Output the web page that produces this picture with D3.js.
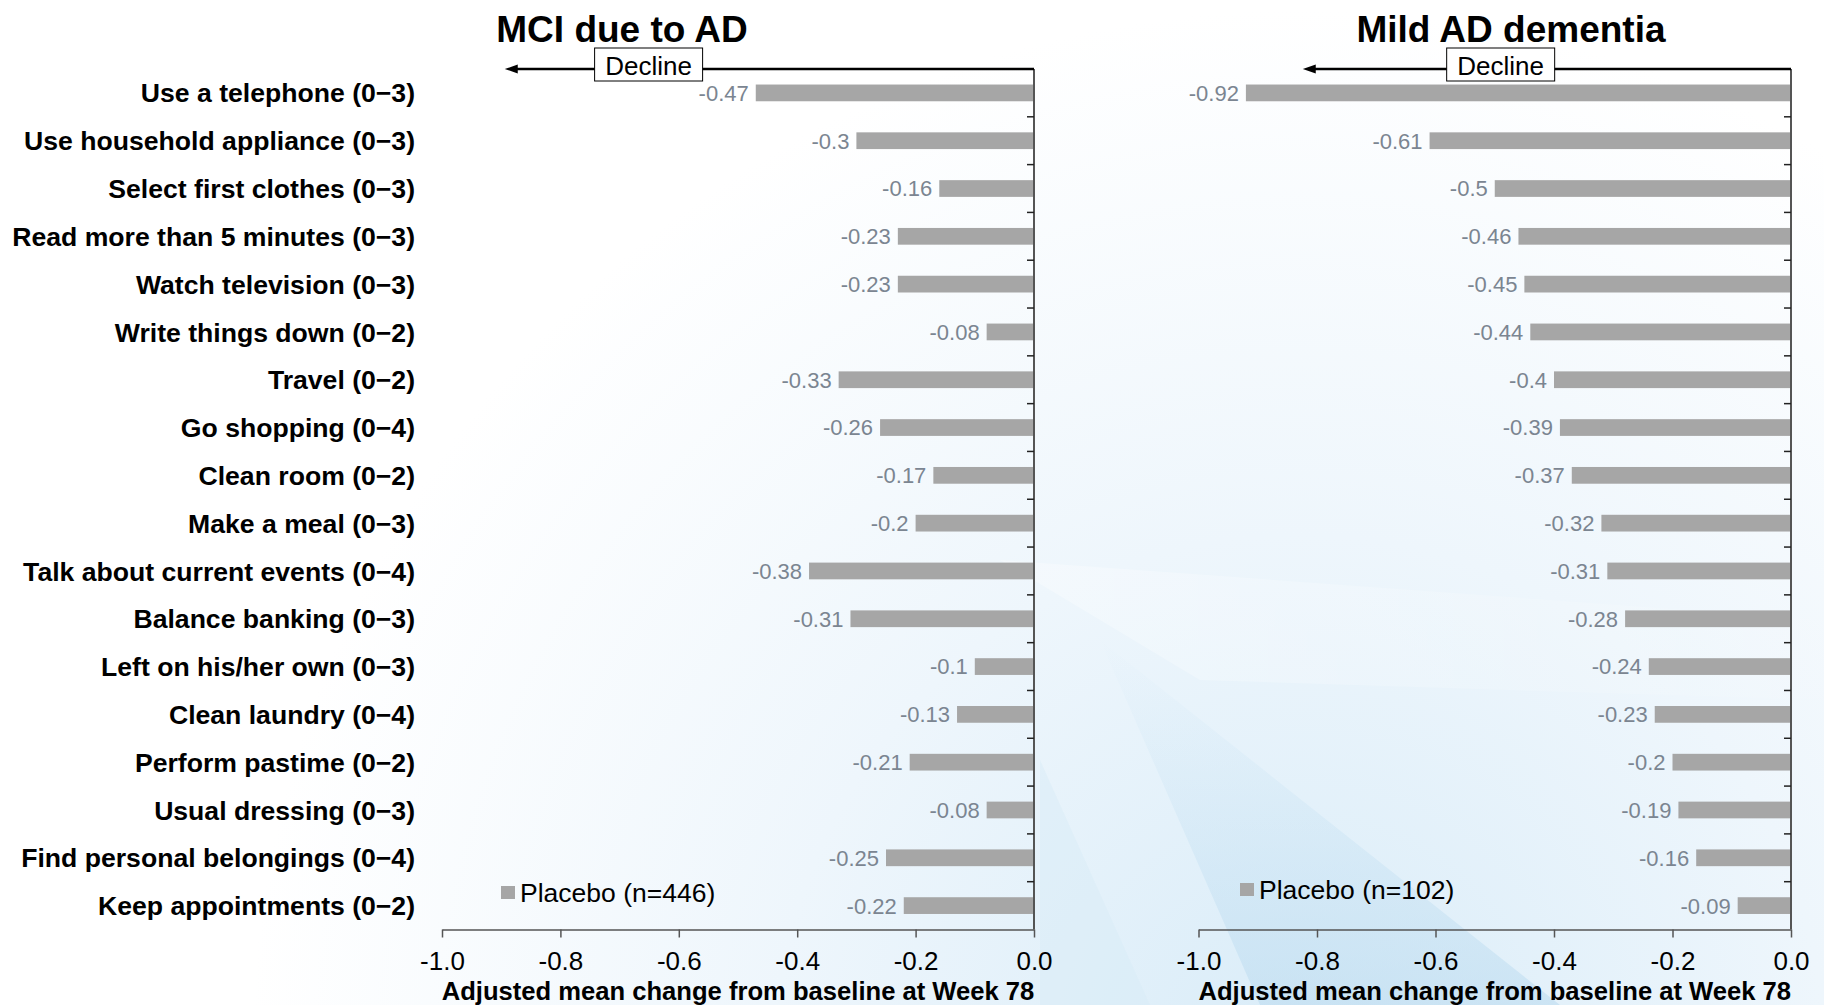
<!DOCTYPE html>
<html>
<head>
<meta charset="utf-8">
<script src="https://cdn.jsdelivr.net/npm/d3@7"></script>
<style>
  html, body { margin: 0; padding: 0; background: #ffffff; }
  svg { display: block; font-family: "Liberation Sans", Arial, sans-serif; }
</style>
</head>
<body>
<svg id="chart" width="1824" height="1005"></svg>
<script>
// ---------------- DATA ----------------
const categories = [
  "Use a telephone (0\u22123)",
  "Use household appliance (0\u22123)",
  "Select first clothes (0\u22123)",
  "Read more than 5 minutes (0\u22123)",
  "Watch television (0\u22123)",
  "Write things down (0\u22122)",
  "Travel (0\u22122)",
  "Go shopping (0\u22124)",
  "Clean room (0\u22122)",
  "Make a meal (0\u22123)",
  "Talk about current events (0\u22124)",
  "Balance banking (0\u22123)",
  "Left on his/her own (0\u22123)",
  "Clean laundry (0\u22124)",
  "Perform pastime (0\u22122)",
  "Usual dressing (0\u22123)",
  "Find personal belongings (0\u22124)",
  "Keep appointments (0\u22122)"
];
const mciValues  = [-0.47, -0.3, -0.16, -0.23, -0.23, -0.08, -0.33, -0.26, -0.17, -0.2, -0.38, -0.31, -0.1, -0.13, -0.21, -0.08, -0.25, -0.22];
const mildValues = [-0.92, -0.61, -0.5, -0.46, -0.45, -0.44, -0.4, -0.39, -0.37, -0.32, -0.31, -0.28, -0.24, -0.23, -0.2, -0.19, -0.16, -0.09];
const panelTitles = ["MCI due to AD", "Mild AD dementia"];
const legendLabels = ["Placebo (n=446)", "Placebo (n=102)"];
const xTickValues = [-1.0, -0.8, -0.6, -0.4, -0.2, 0.0];
const xDomain = [-1, 0];
const axisTitle = "Adjusted mean change from baseline at Week 78";
const annotationText = "Decline";

// ---------------- SETUP ----------------
const svg = d3.select("#chart");
const W = 1824, H = 1005;

// background decoration (soft light-blue wash)
const defs = svg.append("defs");
const rg = defs.append("radialGradient").attr("id", "bgRad")
  .attr("cx", 1300).attr("cy", 1060).attr("r", 1050).attr("gradientUnits", "userSpaceOnUse");
rg.append("stop").attr("offset", "0").attr("stop-color", "#d9ecf8");
rg.append("stop").attr("offset", "0.5").attr("stop-color", "#eef6fc");
rg.append("stop").attr("offset", "1").attr("stop-color", "#ffffff");
const wg = defs.append("linearGradient").attr("id", "wedge")
  .attr("x1", 0).attr("y1", 0).attr("x2", 0).attr("y2", 1);
wg.append("stop").attr("offset", "0").attr("stop-color", "#c4e1f3").attr("stop-opacity", 0);
wg.append("stop").attr("offset", "1").attr("stop-color", "#bddcf0").attr("stop-opacity", 0.6);
const sg = defs.append("linearGradient").attr("id", "streak")
  .attr("x1", 0).attr("y1", 0).attr("x2", 1).attr("y2", 0);
sg.append("stop").attr("offset", "0").attr("stop-color", "#ffffff").attr("stop-opacity", 0.7);
sg.append("stop").attr("offset", "1").attr("stop-color", "#ffffff").attr("stop-opacity", 0.1);

const bg = svg.append("g").attr("class", "background");
bg.append("rect").attr("width", W).attr("height", H).attr("fill", "url(#bgRad)");
bg.append("polygon").attr("points", "1100,640 1260,1005 1560,1005").attr("fill", "url(#wedge)");
bg.append("polygon").attr("points", "1040,760 1150,1005 1040,1005").attr("fill", "#d8ebf7").attr("opacity", 0.45);
bg.append("polygon").attr("points", "1000,560 1824,620 1824,700 1200,680").attr("fill", "url(#streak)").attr("opacity", 0.45);

// y band scale shared
const y = d3.scaleBand().domain(categories).range([69, 929.5]).paddingInner(0.65).paddingOuter(0.325);

const panels = [
  { values: mciValues, range: [442, 1034], title: panelTitles[0], titleX: 622, legend: legendLabels[0], legendX: 501, legendY: 886, declineTip: -0.894, declineBox: -0.651, showLabels: true },
  { values: mildValues, range: [1198.5, 1791], title: panelTitles[1], titleX: 1511, legend: legendLabels[1], legendX: 1240, legendY: 883, declineTip: -0.824, declineBox: -0.49, showLabels: false }
];

const barColor = "#a6a6a6";
const valueColor = "#7b8591";
const axisColor = "#555555";

panels.forEach(p => {
  const x = d3.scaleLinear().domain(xDomain).range(p.range);
  const g = svg.append("g");
  const x0 = x(0);

  // title
  g.append("text").attr("x", p.titleX).attr("y", 42)
    .attr("text-anchor", "middle").attr("font-size", 37).attr("font-weight", "bold")
    .attr("fill", "#000").text(p.title);

  // bars
  g.selectAll("rect.bar").data(p.values).join("rect").attr("class", "bar")
    .attr("x", d => x(d)).attr("width", d => x0 - x(d))
    .attr("y", (d, i) => y(categories[i])).attr("height", y.bandwidth())
    .attr("fill", barColor);

  // value labels
  g.selectAll("text.val").data(p.values).join("text").attr("class", "val")
    .attr("x", d => x(d) - 7)
    .attr("y", (d, i) => y(categories[i]) + y.bandwidth() / 2)
    .attr("dy", "0.36em")
    .attr("text-anchor", "end").attr("font-size", 22).attr("fill", valueColor)
    .text(d => String(d));

  // category labels
  if (p.showLabels) {
    g.selectAll("text.cat").data(categories).join("text").attr("class", "cat")
      .attr("x", 415).attr("y", d => y(d) + y.bandwidth() / 2).attr("dy", "0.36em")
      .attr("text-anchor", "end").attr("font-size", 26.6).attr("font-weight", "bold")
      .attr("fill", "#000").text(d => d);
  }

  // x axis
  const xAxis = d3.axisBottom(x).tickValues(xTickValues).tickFormat(d => d.toFixed(1))
    .tickSize(8).tickSizeOuter(0).tickPadding(14);
  const ax = g.append("g").attr("transform", "translate(0,929.5)").call(xAxis);
  ax.select(".domain").attr("stroke", axisColor).attr("stroke-width", 1.5);
  ax.selectAll(".tick line").attr("stroke", axisColor).attr("stroke-width", 1.5);
  ax.selectAll(".tick text").attr("font-size", 26).attr("fill", "#000")
    .attr("font-family", "Liberation Sans, Arial, sans-serif");

  // y axis line and boundary ticks
  g.append("line").attr("x1", x0).attr("x2", x0).attr("y1", y.range()[0]).attr("y2", y.range()[1])
    .attr("stroke", axisColor).attr("stroke-width", 2);
  const step = y.step();
  const boundaries = d3.range(1, categories.length).map(i => y.range()[0] + i * step);
  g.selectAll("line.yt").data(boundaries).join("line").attr("class", "yt")
    .attr("x1", x0 - 7).attr("x2", x0).attr("y1", d => d).attr("y2", d => d)
    .attr("stroke", "#222").attr("stroke-width", 1.5);

  // axis title
  g.append("text").attr("x", (p.range[0] + p.range[1]) / 2).attr("y", 1000)
    .attr("text-anchor", "middle").attr("font-size", 25.6).attr("font-weight", "bold")
    .attr("fill", "#000").text(axisTitle);

  // decline annotation
  const tipX = x(p.declineTip);
  const lineY = 69;
  g.append("line").attr("x1", tipX + 8).attr("x2", x0).attr("y1", lineY).attr("y2", lineY)
    .attr("stroke", "#000").attr("stroke-width", 2.5);
  g.append("polygon")
    .attr("points", `${tipX},${lineY} ${tipX + 13},${lineY - 4.5} ${tipX + 13},${lineY + 4.5}`)
    .attr("fill", "#000");
  const bx = x(p.declineBox);
  g.append("rect").attr("x", bx - 54).attr("y", 48).attr("width", 108).attr("height", 33)
    .attr("fill", "#fff").attr("stroke", "#000").attr("stroke-width", 1);
  g.append("text").attr("x", bx).attr("y", 74.5).attr("text-anchor", "middle")
    .attr("font-size", 26).attr("fill", "#000").text(annotationText);

  // legend
  g.append("rect").attr("x", p.legendX).attr("y", p.legendY).attr("width", 14).attr("height", 13)
    .attr("fill", barColor);
  g.append("text").attr("x", p.legendX + 19).attr("y", p.legendY + 6.5).attr("dy", "0.36em")
    .attr("font-size", 26.5).attr("fill", "#000").text(p.legend);
});
</script>
</body>
</html>
